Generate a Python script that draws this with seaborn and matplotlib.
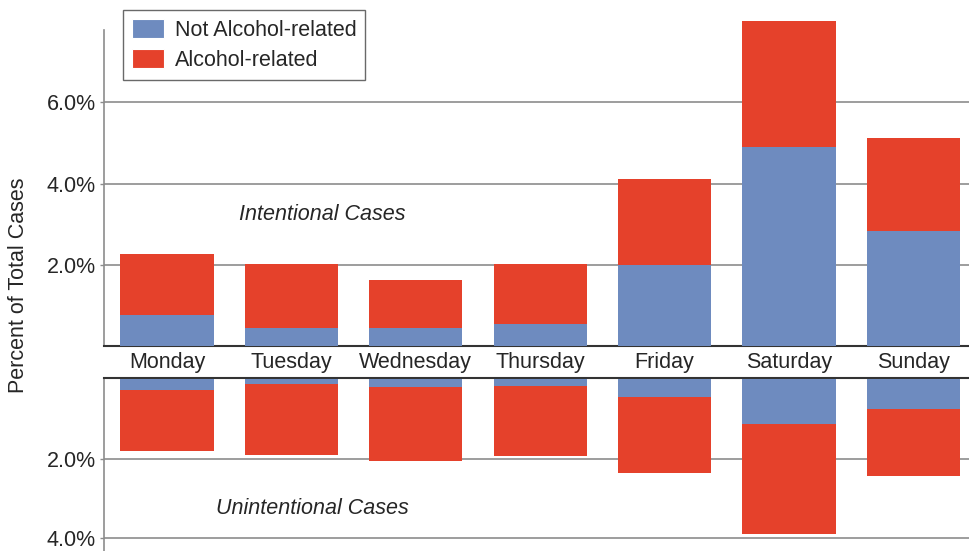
import pandas as pd
import seaborn as sns
import matplotlib.pyplot as plt
from matplotlib.patches import Patch

# --------------------------------------------------
# Data (percent of total cases)
# --------------------------------------------------
days = ["Monday", "Tuesday", "Wednesday", "Thursday", "Friday", "Saturday", "Sunday"]

# intentional cases
intent_not_alcohol = [0.77, 0.44, 0.44, 0.54, 2.00, 4.91, 2.84]
intent_alcohol = [1.50, 1.58, 1.19, 1.48, 2.10, 3.09, 2.27]

# unintentional cases
unint_not_alcohol = [0.27, 0.13, 0.19, 0.17, 0.46, 1.12, 0.76]
unint_alcohol = [1.54, 1.78, 1.87, 1.77, 1.90, 2.77, 1.69]

upper_ticks = [2, 4, 6]
upper_labels = ["2.0%", "4.0%", "6.0%"]
lower_ticks = [2, 4]
lower_labels = ["2.0%", "4.0%"]

BLUE = "#6e8bbf"
RED = "#e5412b"
GRID = "#8c8c8c"
FS = 15.5

sns.set_theme(style="white", context="paper")
plt.rcParams["font.family"] = ["Liberation Sans", "DejaVu Sans"]

df = pd.DataFrame({
    "Day": days,
    "IntentNot": intent_not_alcohol,
    "IntentTotal": [a + b for a, b in zip(intent_not_alcohol, intent_alcohol)],
    "UnintNot": unint_not_alcohol,
    "UnintTotal": [a + b for a, b in zip(unint_not_alcohol, unint_alcohol)],
})

fig = plt.figure(figsize=(9.69, 5.51), dpi=100)
ax_top = fig.add_axes([104 / 969, 1 - 346 / 551, 865 / 969, 346 / 551])
ax_bot = fig.add_axes([104 / 969, 0, 865 / 969, 173 / 551])


def draw_panel(ax, total_col, not_col, ticks, labels):
    sns.barplot(data=df, x="Day", y=total_col, order=days, color=RED,
                width=0.75, saturation=1, linewidth=0, ax=ax, zorder=3)
    sns.barplot(data=df, x="Day", y=not_col, order=days, color=BLUE,
                width=0.75, saturation=1, linewidth=0, ax=ax, zorder=3)
    for t in ticks:
        ax.axhline(t, color=GRID, lw=1.2, zorder=1)
    ax.set_yticks(ticks)
    ax.set_yticklabels(labels, fontsize=FS)
    ax.set_xticks([])
    ax.set_xlabel("")
    ax.set_ylabel("")
    ax.set_xlim(-0.506, 6.447)
    ax.tick_params(axis="y", left=True, length=3, width=1, color=GRID, pad=3)
    for s in ["top", "right"]:
        ax.spines[s].set_visible(False)
    ax.spines["left"].set_color(GRID)
    ax.spines["left"].set_linewidth(1.2)


# upper panel
draw_panel(ax_top, "IntentTotal", "IntentNot", upper_ticks, upper_labels)
ax_top.set_ylim(0, 8.52)
ax_top.spines["left"].set_bounds(0, 7.78)
ax_top.spines["bottom"].set_color("#333333")
ax_top.spines["bottom"].set_linewidth(1.5)
ax_top.text(1.25, 3.25, "Intentional Cases", fontsize=FS, style="italic",
            ha="center", va="center")

# lower panel (inverted)
draw_panel(ax_bot, "UnintTotal", "UnintNot", lower_ticks, lower_labels)
ax_bot.set_ylim(4.33, -0.03)
ax_bot.spines["bottom"].set_visible(False)
ax_bot.spines["top"].set_visible(True)
ax_bot.spines["top"].set_color("#333333")
ax_bot.spines["top"].set_linewidth(1.5)
ax_bot.text(1.17, 3.25, "Unintentional Cases", fontsize=FS, style="italic",
            ha="center", va="center")

# day labels in the band between panels
for i, d in enumerate(days):
    ax_top.text(i, -0.41, d, fontsize=FS, ha="center", va="center",
                transform=ax_top.transData, clip_on=False)

fig.text(19 / 969, 1 - 285 / 551, "Percent of Total Cases", rotation=90,
         fontsize=FS, ha="center", va="center")

handles = [Patch(facecolor=BLUE, label="Not Alcohol-related"),
           Patch(facecolor=RED, label="Alcohol-related")]
leg = fig.legend(handles=handles, loc="upper left",
                 bbox_to_anchor=(123 / 969, 1 - 10 / 551), fontsize=FS,
                 frameon=True, fancybox=False, handlelength=1.5,
                 handleheight=1.0, borderpad=0.4, labelspacing=0.4,
                 handletextpad=0.5, borderaxespad=0)
leg.get_frame().set_edgecolor("#444444")
leg.get_frame().set_linewidth(1.0)

fig.savefig("out.png", dpi=100)
